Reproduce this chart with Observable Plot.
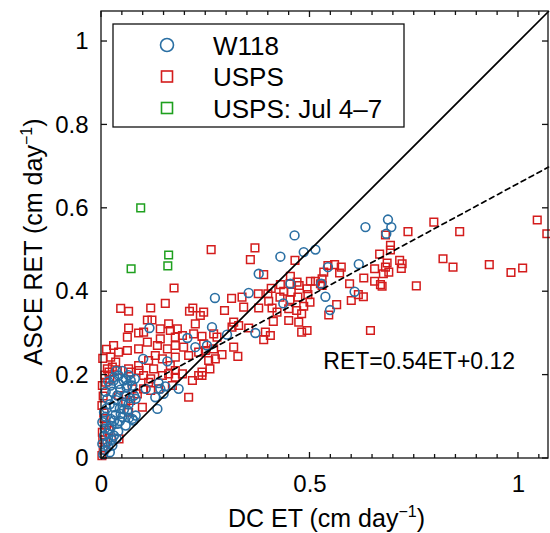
<!DOCTYPE html>
<html><head><meta charset="utf-8">
<script src="https://cdn.jsdelivr.net/npm/d3@7"></script>
<script src="https://cdn.jsdelivr.net/npm/@observablehq/plot@0.6"></script>
<style>
body{margin:0;background:#fff}
#chart svg{font-family:"Liberation Sans",Arial,Helvetica,sans-serif;background:#fff}
</style>
</head><body><div id="chart"></div>
<script>
// ---- data (x = DC ET, y = ASCE RET, cm/day) ----
const w118 = [
[0.687,0.573],[0.633,0.555],[0.695,0.555],[0.683,0.539],[0.617,0.466],[0.543,0.459],[0.527,0.419],[0.537,0.388],
[0.607,0.400],[0.548,0.356],[0.485,0.495],[0.513,0.501],[0.463,0.535],[0.429,0.484],[0.377,0.443],[0.353,0.397],
[0.272,0.385],[0.453,0.419],[0.436,0.372],[0.265,0.315],[0.301,0.297],[0.369,0.301],[0.253,0.271],[0.115,0.313],
[0.206,0.289],[0.225,0.267],[0.100,0.239],[0.158,0.233],[0.041,0.199],[0.029,0.187],[0.053,0.187],[0.080,0.191],
[0.137,0.181],[0.106,0.167],[0.141,0.167],[0.153,0.173],[0.185,0.167],[0.129,0.147],[0.149,0.155],[0.082,0.143],
[0.134,0.119],[0.077,0.091],[0.002,0.035],
[0.030,0.195],[0.070,0.187],[0.042,0.179],[0.022,0.175],[0.062,0.175],[0.078,0.151],[0.038,0.151],[0.014,0.143],
[0.050,0.135],[0.030,0.123],[0.006,0.111],[0.062,0.115],[0.046,0.107],[0.022,0.095],[0.002,0.087],[0.038,0.083],
[0.058,0.079],[0.018,0.071],[0.074,0.095],[0.082,0.103],[0.006,0.055],[0.030,0.055],[0.014,0.039],[0.026,0.031],
[0.010,0.160],[0.020,0.130],[0.035,0.140],[0.045,0.165],[0.055,0.150],[0.065,0.130],[0.010,0.100],[0.030,0.090],
[0.050,0.100],[0.015,0.060],[0.040,0.065],[0.025,0.045],[0.008,0.020],[0.020,0.015],[0.060,0.170],[0.050,0.210],
[0.035,0.210],[0.065,0.200],
[0.016,0.185],[0.026,0.160],[0.044,0.120],[0.054,0.118],[0.068,0.145],[0.034,0.105],[0.012,0.120],[0.024,0.078],
[0.044,0.090],[0.066,0.098],[0.008,0.072],[0.036,0.048],[0.016,0.028],[0.004,0.010],[0.058,0.190],[0.074,0.175]
];
const usps = [
[0.797,0.567],[0.735,0.544],[0.859,0.544],[1.045,0.572],[1.068,0.539],[0.681,0.536],[0.693,0.511],[0.693,0.500],
[0.667,0.490],[0.715,0.475],[0.721,0.467],[0.719,0.456],[0.685,0.469],[0.681,0.459],[0.689,0.447],[0.676,0.443],
[0.655,0.455],[0.629,0.433],[0.655,0.425],[0.669,0.417],[0.673,0.413],[0.755,0.414],[0.819,0.479],[0.843,0.459],
[0.930,0.465],[0.982,0.446],[1.010,0.457],[0.559,0.465],[0.575,0.459],[0.543,0.463],[0.533,0.447],[0.571,0.445],
[0.529,0.431],[0.529,0.415],[0.595,0.419],[0.616,0.393],[0.628,0.388],[0.599,0.379],[0.564,0.369],[0.545,0.344],
[0.645,0.307],
[0.263,0.501],[0.368,0.505],[0.357,0.477],[0.464,0.475],[0.389,0.441],[0.453,0.437],[0.429,0.417],[0.407,0.408],
[0.452,0.419],[0.469,0.423],[0.474,0.415],[0.501,0.425],[0.513,0.425],[0.525,0.419],[0.493,0.407],[0.437,0.401],
[0.455,0.399],[0.399,0.395],[0.376,0.395],[0.337,0.387],[0.312,0.384],[0.428,0.387],[0.471,0.387],[0.495,0.393],
[0.500,0.375],[0.401,0.377],[0.452,0.381],[0.341,0.363],[0.377,0.361],[0.409,0.361],[0.421,0.351],[0.485,0.365],
[0.449,0.359],[0.468,0.355],[0.480,0.347],[0.295,0.355],[0.245,0.351],[0.237,0.343],[0.412,0.329],[0.449,0.331],
[0.473,0.327],[0.317,0.327],[0.329,0.319],[0.353,0.313],[0.313,0.315],[0.493,0.307],[0.480,0.303],[0.393,0.303],
[0.405,0.295],[0.389,0.285],[0.269,0.299],[0.277,0.291],[0.241,0.293],[0.317,0.267],[0.269,0.263],[0.249,0.259],
[0.289,0.249],[0.327,0.245],[0.273,0.239],[0.257,0.235],[0.260,0.215],[0.241,0.199],
[0.174,0.409],[0.153,0.372],[0.046,0.360],[0.065,0.353],[0.118,0.361],[0.211,0.353],[0.219,0.361],[0.110,0.332],
[0.121,0.332],[0.065,0.313],[0.089,0.301],[0.101,0.303],[0.141,0.311],[0.161,0.323],[0.165,0.307],[0.225,0.323],
[0.182,0.311],[0.062,0.291],[0.110,0.279],[0.177,0.291],[0.141,0.287],[0.194,0.295],[0.221,0.299],[0.029,0.271],
[0.041,0.255],[0.022,0.243],[0.034,0.231],[0.062,0.259],[0.089,0.263],[0.134,0.271],[0.158,0.263],[0.177,0.271],
[0.197,0.267],[0.245,0.275],[0.129,0.247],[0.113,0.235],[0.146,0.239],[0.177,0.243],[0.209,0.247],[0.233,0.255],
[0.089,0.223],[0.065,0.215],[0.125,0.215],[0.165,0.223],[0.177,0.211],[0.218,0.187],[0.241,0.207],[0.018,0.207],
[0.010,0.183],[0.113,0.183],[0.101,0.167],[0.137,0.167],[0.209,0.147],[0.170,0.175],[0.041,0.151],[0.058,0.135],
[0.065,0.111],[0.101,0.199],[0.118,0.191],[0.146,0.199],[0.161,0.203],[0.177,0.195],[0.194,0.203],[0.233,0.199],
[0.118,0.163],
[0.014,0.215],[0.026,0.219],[0.038,0.211],[0.070,0.207],[0.090,0.211],[0.074,0.167],[0.086,0.155],[0.070,0.139],
[0.098,0.123],[0.002,0.175],[0.001,0.127],[0.006,0.096],[0.002,0.063],[0.018,0.067],[0.042,0.047],[0.010,0.039],
[0.001,0.007],[0.004,0.150],[0.008,0.200],[0.003,0.240],[0.012,0.262],[0.006,0.110],[0.004,0.020],[0.012,0.080],
[0.020,0.190],[0.003,0.045]
];
const uspsJul = [[0.094,0.601],[0.161,0.488],[0.159,0.462],[0.071,0.455]];

const seriesNames = ["W118", "USPS", "USPS: Jul 4\u20137"];
const seriesColors = ["#2a6fa3", "#d41c1c", "#1ea01e"];
const seriesShapes = ["circle", "square", "square"];

const fitSlope = 0.54, fitIntercept = 0.12;
const fitLabel = "RET=0.54ET+0.12";
const fitLabelPos = [[0.532, 0.233]];

const xTicks = [0, 0.5, 1];
const xMinorTicks = [0.05,0.1,0.15,0.2,0.25,0.3,0.35,0.4,0.45,0.55,0.6,0.65,0.7,0.75,0.8,0.85,0.9,0.95,1.05];
const yTicks = [0, 0.2, 0.4, 0.6, 0.8, 1];
const domainMax = 1.072;
const lineEnds = [0, domainMax];

// ---- custom render helpers ----
function ticksAndFrame(index, {x, y}, values, dim) {
  const g = d3.create("svg:g").attr("stroke", "#111").attr("stroke-width", 1.3).attr("fill", "none");
  const L = dim.marginLeft, R = dim.width - dim.marginRight, T = dim.marginTop, B = dim.height - dim.marginBottom;
  const tick = (v, len) => {
    const px = x(v);
    g.append("line").attr("x1", px).attr("x2", px).attr("y1", B).attr("y2", B - len);
    g.append("line").attr("x1", px).attr("x2", px).attr("y1", T).attr("y2", T + len);
  };
  xTicks.forEach(v => tick(v, 6));
  xMinorTicks.forEach(v => tick(v, 4));
  yTicks.forEach(v => {
    const py = y(v);
    g.append("line").attr("x1", L).attr("x2", L + 6).attr("y1", py).attr("y2", py);
    g.append("line").attr("x1", R).attr("x2", R - 6).attr("y1", py).attr("y2", py);
  });
  g.append("rect").attr("x", L).attr("y", T).attr("width", R - L).attr("height", B - T);
  return g.node();
}

function axisLabels(index, scales, values, dim) {
  const g = d3.create("svg:g").attr("fill", "#000").attr("font-size", 25).attr("text-anchor", "middle");
  const cx = (dim.marginLeft + dim.width - dim.marginRight) / 2;
  const tx = g.append("text").attr("x", cx + 2).attr("y", 527);
  tx.append("tspan").text("DC ET (cm day");
  tx.append("tspan").attr("dy", -10).attr("font-size", 16).text("\u22121");
  tx.append("tspan").attr("dy", 10).text(")");
  const ty = g.append("text").attr("transform", "translate(42,242) rotate(-90)");
  ty.append("tspan").text("ASCE RET (cm day");
  ty.append("tspan").attr("dy", -10).attr("font-size", 16).text("\u22121");
  ty.append("tspan").attr("dy", 10).text(")");
  return g.node();
}

function legend(index, scales, values, dim) {
  const g = d3.create("svg:g");
  const x0 = dim.marginLeft + 12, y0 = dim.marginTop + 13, w = 291, h = 103;
  g.append("rect").attr("x", x0).attr("y", y0).attr("width", w).attr("height", h)
    .attr("fill", "#fff").attr("stroke", "#111").attr("stroke-width", 1.3);
  seriesNames.forEach((name, i) => {
    const cy = y0 + 21 + i * 31.5, mx = x0 + 54;
    if (seriesShapes[i] === "circle") {
      g.append("circle").attr("cx", mx).attr("cy", cy).attr("r", 6.5)
        .attr("fill", "none").attr("stroke", seriesColors[i]).attr("stroke-width", 1.6);
    } else {
      g.append("rect").attr("x", mx - 5.5).attr("y", cy - 5.5).attr("width", 11).attr("height", 11)
        .attr("fill", "none").attr("stroke", seriesColors[i]).attr("stroke-width", 1.6);
    }
    g.append("text").attr("x", x0 + 100).attr("y", cy + 9.5).attr("font-size", 26)
      .attr("text-anchor", "start").attr("fill", "#000").text(name);
  });
  return g.node();
}

const chart = Plot.plot({
  width: 550, height: 533,
  marginLeft: 101, marginRight: 2, marginTop: 11, marginBottom: 75,
  x: {domain: [0, domainMax], label: null},
  y: {domain: [0, domainMax], label: null},
  style: {fontFamily: "'Liberation Sans', Arial, sans-serif", color: "#000", background: "#fff"},
  marks: [
    Plot.axisX({ticks: xTicks, tickSize: 0, tickPadding: 16, fontSize: 24, tickFormat: d => String(d), label: null}),
    Plot.axisY({ticks: yTicks, tickSize: 0, tickPadding: 13, fontSize: 24, tickFormat: d => String(d), label: null}),
    Plot.dot(usps, {x: d => d[0], y: d => d[1], symbol: "square", r: 4.3, stroke: seriesColors[1], strokeWidth: 1.5, fill: "none"}),
    Plot.dot(uspsJul, {x: d => d[0], y: d => d[1], symbol: "square", r: 4.3, stroke: seriesColors[2], strokeWidth: 1.5, fill: "none"}),
    Plot.dot(w118, {x: d => d[0], y: d => d[1], symbol: "circle", r: 4.4, stroke: seriesColors[0], strokeWidth: 1.6, fill: "none"}),
    Plot.line(lineEnds, {x: d => d, y: d => d, stroke: "#000", strokeWidth: 1.7}),
    Plot.line(lineEnds, {x: d => d, y: d => fitSlope * d + fitIntercept, stroke: "#000", strokeWidth: 1.7, strokeDasharray: "5,4"}),
    Plot.text(fitLabelPos, {x: d => d[0], y: d => d[1], text: () => fitLabel, textAnchor: "start", fontSize: 23, fill: "#000"}),
    ticksAndFrame,
    legend,
    axisLabels
  ]
});
document.getElementById("chart").appendChild(chart);
</script>
</body></html>
